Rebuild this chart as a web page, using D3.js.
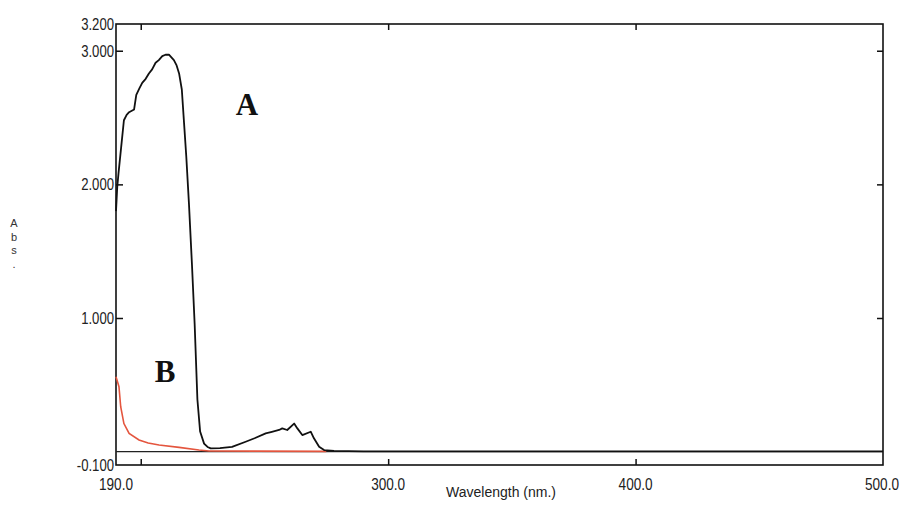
<!DOCTYPE html>
<html><head><meta charset="utf-8">
<script src="https://cdn.jsdelivr.net/npm/d3@7"></script>
<style>
html,body{margin:0;padding:0;background:#fff;}
svg{display:block;}
</style></head>
<body>
<script>
// ---- data ----
const wavelengthA = [190,190.5,191,192.1,193.2,194.3,195.3,197.3,198.2,199.5,200.6,202,203.3,204.6,206,207.3,208.7,210,211.4,212.4,213.4,214.5,215.5,216.6,217.5,218.4,219.5,220.7,221.8,222.9,224,225.6,227,228.3,232,236.9,242.4,246,250.5,253,255.9,257.2,259.2,262,263.3,265.3,268.7,270,272.1,274.1,278.1,290,500];
const absA = [1.80,1.98,2.08,2.28,2.48,2.52,2.54,2.56,2.67,2.72,2.76,2.79,2.83,2.86,2.91,2.93,2.96,2.97,2.97,2.95,2.93,2.89,2.83,2.71,2.46,2.21,1.85,1.40,0.95,0.39,0.15,0.06,0.035,0.025,0.027,0.035,0.074,0.10,0.137,0.148,0.162,0.174,0.162,0.21,0.174,0.124,0.149,0.10,0.037,0.012,0.005,0.002,0.002];
const wavelengthB = [190,191.2,191.9,193.2,195.3,199.3,203,207.4,215.5,223.5,227.6,275];
const absB = [0.56,0.486,0.336,0.21,0.137,0.087,0.065,0.05,0.032,0.012,0.005,0.002];
const xTickLabels = [190,300,400,500];
const xTickMarks = [200,300,400];
const yTickLabels = [-0.1,1,2,3,3.2];
const yTickMarks = [1,2,3];
const baselineValue = [0];

// ---- layout ----
const W = 903, H = 506;
const L = 116, R = 883, T = 24, B = 465;
const x = d3.scaleLinear().domain([190,500]).range([L,R]);
const y = d3.scaleLinear().domain([-0.1,3.2]).range([B,T]);
const loc = d3.formatLocale({decimal:".", thousands:",", grouping:[3], currency:["",""], minus:"-"});

const svg = d3.select("body").append("svg").attr("width",W).attr("height",H);
const tickFont = "'Liberation Sans',Arial,sans-serif";

// frame
svg.append("rect").attr("x",L).attr("y",T).attr("width",R-L).attr("height",B-T)
  .attr("fill","none").attr("stroke","#111").attr("stroke-width",1.6);

// axes via d3 axis generators (ticks inward)
const xb = svg.append("g").attr("transform",`translate(0,${B})`)
  .call(d3.axisTop(x).tickValues(xTickMarks).tickSize(6).tickFormat(""));
const xt = svg.append("g").attr("transform",`translate(0,${T})`)
  .call(d3.axisBottom(x).tickValues(xTickMarks).tickSize(6).tickFormat(""));
const yl = svg.append("g").attr("transform",`translate(${L},0)`)
  .call(d3.axisRight(y).tickValues(yTickMarks).tickSize(7).tickFormat(""));
const yr = svg.append("g").attr("transform",`translate(${R},0)`)
  .call(d3.axisLeft(y).tickValues(yTickMarks).tickSize(6).tickFormat(""));
[xb,xt,yl,yr].forEach(g=>{
  g.select(".domain").remove();
  g.selectAll("line").attr("stroke","#111").attr("stroke-width",1.5);
});

// x tick labels (horizontally condensed via scale transform)
const lastX = xTickLabels[xTickLabels.length-1];
svg.append("g").selectAll("text").data(xTickLabels).join("text")
  .attr("transform",d=>`translate(${d===lastX ? x(d)-1 : x(d)},490) scale(0.8,1)`)
  .attr("text-anchor","middle")
  .attr("font-family",tickFont).attr("font-size",17).attr("fill","#222")
  .text(d=>loc.format(".1f")(d));

// y tick labels (condensed)
svg.append("g").selectAll("text").data(yTickLabels).join("text")
  .attr("transform",d=>`translate(${L-2},${y(d)+6}) scale(0.82,1)`)
  .attr("text-anchor","end")
  .attr("font-family",tickFont).attr("font-size",16).attr("fill","#222")
  .text(d=>loc.format(".3f")(d));

// axis titles
svg.append("text").attr("x",501).attr("y",497).attr("text-anchor","middle")
  .attr("font-family","'Liberation Sans',Arial,sans-serif").attr("font-size",14).attr("fill","#222")
  .text("Wavelength (nm.)");
const absLetters = ["A","b","s","."];
svg.append("g").selectAll("text").data(absLetters).join("text")
  .attr("x",14).attr("y",(d,i)=>227+i*13.5).attr("text-anchor","middle")
  .attr("font-family","'Liberation Sans',Arial,sans-serif").attr("font-size",11).attr("fill","#333")
  .text(d=>d);

// baseline at 0
svg.append("line").attr("x1",x(190)).attr("x2",x(500))
  .attr("y1",y(baselineValue[0])).attr("y2",y(baselineValue[0]))
  .attr("stroke","#222").attr("stroke-width",1.4);

const line = d3.line().x(d=>x(d[0])).y(d=>y(d[1]));
// curve B (red)
svg.append("path").datum(wavelengthB.map((w,i)=>[w,absB[i]]))
  .attr("d",line).attr("fill","none").attr("stroke","#e4553e").attr("stroke-width",1.6);
// curve A (black)
svg.append("path").datum(wavelengthA.map((w,i)=>[w,absA[i]]))
  .attr("d",line).attr("fill","none").attr("stroke","#111").attr("stroke-width",1.8)
  .attr("stroke-linejoin","round");

// curve labels
svg.append("text").attr("x",247).attr("y",115).attr("text-anchor","middle")
  .attr("font-family","'Liberation Serif','Times New Roman',serif").attr("font-weight","bold")
  .attr("font-size",31).attr("fill","#111").text("A");
svg.append("text").attr("x",165).attr("y",382).attr("text-anchor","middle")
  .attr("font-family","'Liberation Serif','Times New Roman',serif").attr("font-weight","bold")
  .attr("font-size",31).attr("fill","#111").text("B");
</script>
</body></html>
